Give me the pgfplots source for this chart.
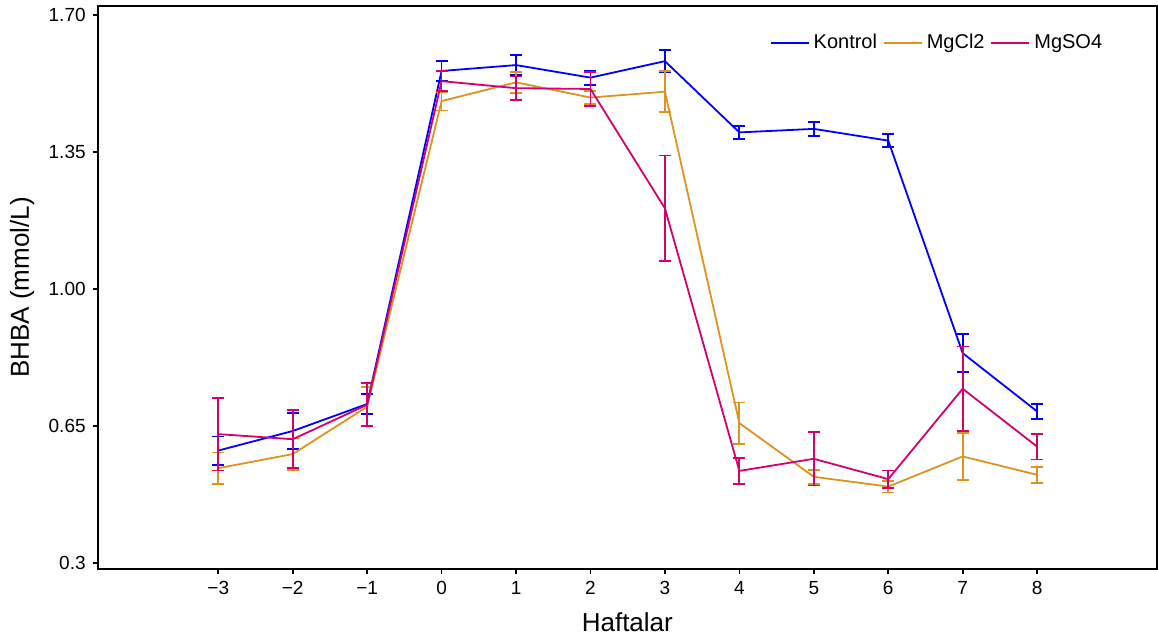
\documentclass[border=0pt]{standalone}
\usepackage{pgfplots}
\pgfplotsset{compat=1.18}
\usepackage{fontspec}
\setmainfont{Liberation Sans}
\definecolor{cK}{RGB}{0,0,255}
\definecolor{cC}{RGB}{222,146,32}
\definecolor{cS}{RGB}{212,0,110}
\pgfplotstableread{
x y e
-3 0.587 0.036
-2 0.637 0.046
-1 0.706 0.026
0 1.557 0.025
1 1.572 0.025
2 1.540 0.018
3 1.582 0.028
4 1.400 0.016
5 1.409 0.018
6 1.379 0.017
7 0.836 0.048
8 0.687 0.020
}\kontrol
\pgfplotstableread{
x y e
-3 0.542 0.040
-2 0.578 0.040
-1 0.699 0.050
0 1.480 0.024
1 1.528 0.027
2 1.489 0.017
3 1.504 0.052
4 0.657 0.053
5 0.520 0.018
6 0.495 0.015
7 0.572 0.060
8 0.525 0.020
}\mgcl
\pgfplotstableread{
x y e
-3 0.629 0.093
-2 0.616 0.074
-1 0.704 0.055
0 1.531 0.025
1 1.513 0.030
2 1.511 0.043
3 1.206 0.135
4 0.535 0.034
5 0.566 0.068
6 0.514 0.022
7 0.745 0.108
8 0.597 0.033
}\mgso
\begin{document}
\begin{tikzpicture}
\path[use as bounding box] (-48.85bp,-35.85bp) rectangle (530.3bp,284.65bp);
\begin{axis}[
  at={(0,0)}, anchor=south west,
  scale only axis, width=529.8bp, height=281.65bp,
  xmin=-4.62, xmax=9.61, ymin=0.284, ymax=1.723,
  axis line style={line width=0.9bp},
  xtick={-3,-2,-1,0,1,2,3,4,5,6,7,8},
  xticklabels={−3,−2,−1,0,1,2,3,4,5,6,7,8},
  ytick={0.3,0.65,1.00,1.35,1.70},
  yticklabels={0.3,0.65,1.00,1.35,1.70},
  tick align=outside, xtick pos=bottom, ytick pos=left,
  major tick length=2.5bp,
  tick style={line width=0.8bp, black},
  ticklabel style={font=\fontsize{9.5bp}{11bp}\selectfont},
  xlabel={Haftalar}, ylabel={BHBA (mmol/L)},
  label style={font=\fontsize{13bp}{15bp}\selectfont},
  xlabel style={at={(axis description cs:0.5,-0.094)}, anchor=center},
  ylabel style={at={(axis description cs:-0.0714,0.5)}, anchor=center},
  legend style={draw=none, fill=none, at={(axis description cs:0.958,0.965)}, anchor=north east,
    font=\fontsize{10bp}{12bp}\selectfont, legend columns=-1,
    /tikz/every odd column/.append style={column sep=0pt},
    /tikz/every even column/.append style={column sep=1bp}},
  legend image code/.code={\draw[#1] (0bp,0bp) -- (19bp,0bp);},
  every axis plot/.append style={line width=0.9bp, mark=none},
  error bars/y dir=both, error bars/y explicit,
  error bars/error bar style={line width=0.9bp},
]
\addplot[cK, error bars/error bar style={cK, line width=0.9bp}, error bars/error mark options={rotate=90, mark size=3bp, cK, line width=0.9bp}] table[x=x, y=y, y error=e] {\kontrol};
\addlegendentry{Kontrol}
\addplot[cC, error bars/error bar style={cC, line width=0.9bp}, error bars/error mark options={rotate=90, mark size=3bp, cC, line width=0.9bp}] table[x=x, y=y, y error=e] {\mgcl};
\addlegendentry{MgCl2}
\addplot[cS, error bars/error bar style={cS, line width=0.9bp}, error bars/error mark options={rotate=90, mark size=3bp, cS, line width=0.9bp}] table[x=x, y=y, y error=e] {\mgso};
\addlegendentry{MgSO4}
\end{axis}
\end{tikzpicture}
\end{document}
